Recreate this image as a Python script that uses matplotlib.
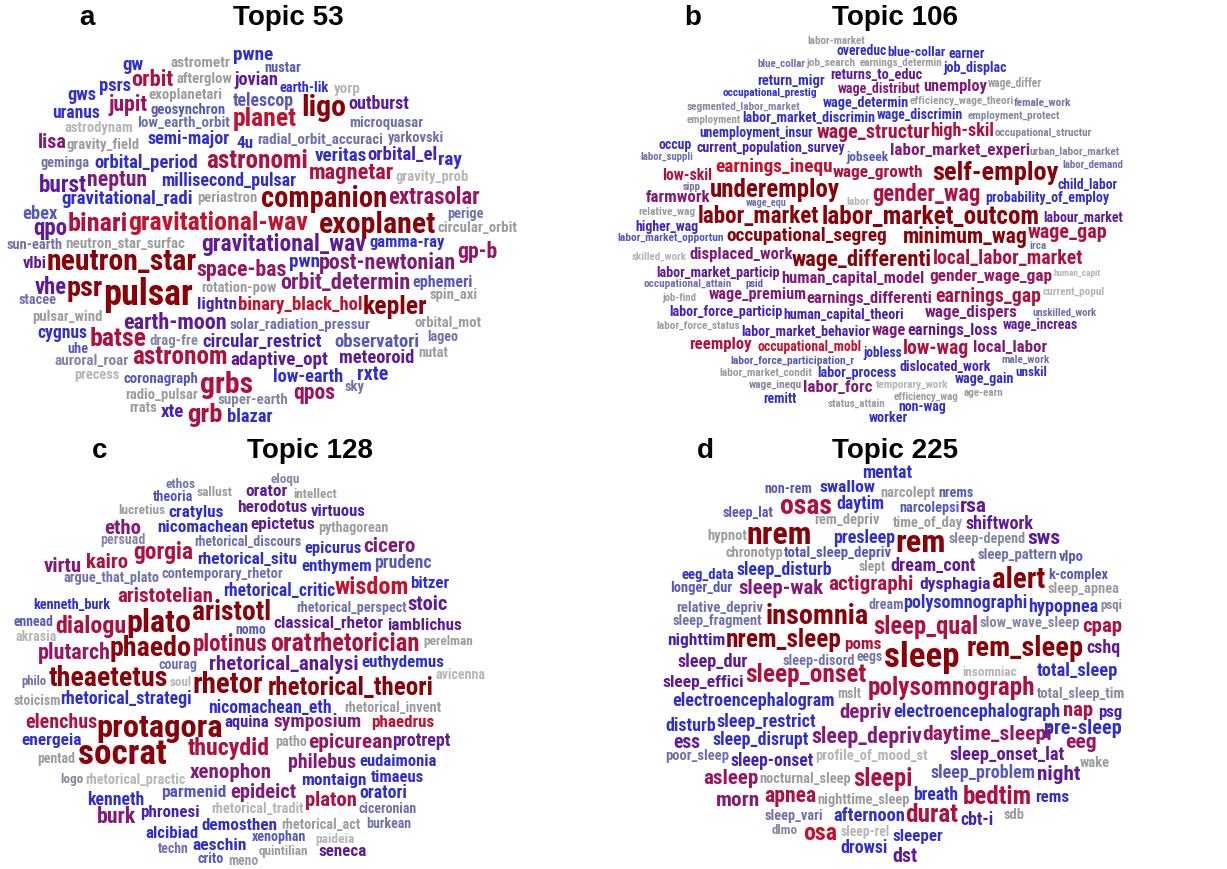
import os
import matplotlib
matplotlib.use('Agg')
import matplotlib.pyplot as plt
from matplotlib import font_manager as fm
from matplotlib.colors import LinearSegmentedColormap

# colour score levels (grey = weak ... dark red = strong)
LG, GR, SG, SL, SB, BL, BP, PU, PL, MG, CR, RD, DR = 0.0, .1, .2, .28, .36, .45, .52, .6, .68, .74, .8, .88, 1.0

titles = ['Topic 53', 'Topic 106', 'Topic 128', 'Topic 225']
letters = ['a', 'b', 'c', 'd']

words_a = [
    ("gw", BL), ("astrometr", GR), ("pwne", BL), ("nustar", SB), ("orbit", CR), ("afterglow", GR),
    ("psrs", BL), ("jovian", PU), ("earth-lik", BL), ("yorp", LG), ("gws", BL), ("exoplanetari", GR),
    ("jupit", MG), ("telescop", SB), ("ligo", DR), ("outburst", PU), ("uranus", BL), ("geosynchron", SB),
    ("planet", RD), ("microquasar", SL), ("astrodynam", LG), ("low_earth_orbit", SL), ("lisa", PL),
    ("gravity_field", GR), ("semi-major", BL), ("4u", BL), ("radial_orbit_accuraci", SL), ("yarkovski", SL),
    ("geminga", SL), ("orbital_period", BL), ("astronomi", CR), ("veritas", BL), ("orbital_el", BP),
    ("ray", BL), ("magnetar", CR), ("gravity_prob", LG), ("burst", PU), ("neptun", PL),
    ("millisecond_pulsar", BL), ("gravitational_radi", BL), ("periastron", GR), ("companion", DR),
    ("extrasolar", MG), ("ebex", SB), ("perige", SL), ("qpo", PU), ("binari", CR), ("gravitational-wav", RD),
    ("exoplanet", DR), ("circular_orbit", GR), ("sun-earth", SL), ("neutron_star_surfac", GR),
    ("gravitational_wav", PU), ("gamma-ray", BL), ("gp-b", MG), ("vlbi", PU), ("neutron_star", DR),
    ("space-bas", MG), ("pwn", BL), ("post-newtonian", PL), ("vhe", PU), ("psr", DR), ("pulsar", DR),
    ("rotation-pow", GR), ("orbit_determin", PL), ("ephemeri", SB), ("stacee", SL), ("spin_axi", GR),
    ("lightn", BP), ("binary_black_hol", RD), ("kepler", DR), ("pulsar_wind", GR), ("earth-moon", PU),
    ("solar_radiation_pressur", SL), ("orbital_mot", GR), ("cygnus", BL), ("batse", CR), ("drag-fre", SG),
    ("circular_restrict", BP), ("observatori", SB), ("lageo", SL), ("uhe", SB), ("auroral_roar", SG),
    ("astronom", CR), ("adaptive_opt", PU), ("meteoroid", PU), ("nutat", GR), ("precess", LG),
    ("coronagraph", SB), ("grbs", CR), ("low-earth", BL), ("rxte", BL), ("sky", SL), ("qpos", MG),
    ("radio_pulsar", GR), ("super-earth", SG), ("rrats", GR), ("xte", BP), ("grb", CR), ("blazar", BL),
]

words_b = [
    ("labor-market", GR), ("overeduc", BL), ("blue-collar", BL), ("earner", BL), ("blue_collar", SL),
    ("job_search", GR), ("earnings_determin", GR), ("job_displac", BL), ("return_migr", BL),
    ("returns_to_educ", PU), ("wage_distribut", PL), ("unemploy", PL), ("wage_differ", GR),
    ("occupational_prestig", BL), ("segmented_labor_market", SG), ("wage_determin", BL),
    ("efficiency_wage_theori", GR), ("female_work", SL), ("employment", GR), ("labor_market_discrimin", BL),
    ("wage_discrimin", BL), ("employment_protect", SG), ("unemployment_insur", BL), ("wage_structur", CR),
    ("high-skil", CR), ("occupational_structur", SG), ("occup", BL), ("current_population_survey", BP),
    ("labor_market_experi", PL), ("labor_suppli", SL), ("jobseek", SB), ("urban_labor_market", SG),
    ("labor_demand", SL), ("low-skil", CR), ("earnings_inequ", RD), ("wage_growth", CR), ("self-employ", DR),
    ("child_labor", BL), ("sipp", SL), ("underemploy", DR), ("farmwork", PL), ("gender_wag", CR),
    ("probability_of_employ", BL), ("wage_equ", SL), ("labor", LG), ("relative_wag", GR),
    ("labor_market", DR), ("labor_market_outcom", DR), ("labour_market", PU), ("higher_wag", BP),
    ("labor_market_opportun", SB), ("occupational_segreg", DR), ("minimum_wag", DR), ("wage_gap", CR),
    ("irca", SL), ("skilled_work", LG), ("displaced_work", PL), ("wage_differenti", DR),
    ("local_labor_market", CR), ("labor_market_particip", PU), ("human_capital_model", PL),
    ("gender_wage_gap", MG), ("human_capit", LG), ("occupational_attain", SL), ("psid", SB),
    ("job-find", GR), ("wage_premium", PL), ("earnings_differenti", PL), ("earnings_gap", CR),
    ("current_popul", LG), ("labor_force_particip", BP), ("human_capital_theori", BP), ("wage_dispers", PL),
    ("unskilled_work", SL), ("labor_force_status", GR), ("labor_market_behavior", BP), ("wage", PL),
    ("earnings_loss", PU), ("wage_increas", PU), ("reemploy", CR), ("occupational_mobl", RD),
    ("jobless", BL), ("low-wag", CR), ("local_labor", PL), ("labor_force_participation_r", SB),
    ("male_work", SL), ("labor_market_condit", GR), ("labor_process", BL), ("dislocated_work", BP),
    ("unskil", BL), ("wage_gain", BL), ("wage_inequ", SG), ("labor_forc", PL), ("temporary_work", LG),
    ("efficiency_wag", GR), ("age-earn", GR), ("remitt", BL), ("status_attain", GR), ("non-wag", BL),
    ("worker", BL),
]

words_c = [
    ("eloqu", SG), ("ethos", SL), ("theoria", SB), ("sallust", GR), ("orator", PU), ("intellect", GR),
    ("lucretius", GR), ("cratylus", BL), ("herodotus", PU), ("virtuous", BP), ("etho", PL),
    ("nicomachean", BL), ("epictetus", PU), ("pythagorean", GR), ("persuad", SG),
    ("rhetorical_discours", SL), ("gorgia", CR), ("epicurus", BL), ("cicero", PL), ("virtu", PL),
    ("kairo", CR), ("rhetorical_situ", BL), ("enthymem", BL), ("prudenc", SB), ("argue_that_plato", SL),
    ("contemporary_rhetor", SL), ("rhetorical_critic", BL), ("wisdom", RD), ("bitzer", BL),
    ("aristotelian", CR), ("kenneth_burk", BL), ("stoic", PU), ("rhetorical_perspect", SL), ("ennead", SB),
    ("dialogu", CR), ("plato", DR), ("aristotl", DR), ("classical_rhetor", PU), ("iamblichus", PU),
    ("nomo", SB), ("akrasia", LG), ("plutarch", MG), ("phaedo", DR), ("plotinus", CR), ("orat", CR),
    ("rhetorician", CR), ("perelman", GR), ("courag", SL), ("rhetorical_analysi", PU), ("euthydemus", BL),
    ("philo", SL), ("theaetetus", DR), ("soul", LG), ("avicenna", LG), ("rhetor", DR),
    ("rhetorical_theori", DR), ("stoicism", GR), ("rhetorical_strategi", BL), ("nicomachean_eth", BL),
    ("rhetorical_invent", GR), ("elenchus", CR), ("protagora", DR), ("aquina", BP), ("symposium", PL),
    ("phaedrus", RD), ("energeia", BL), ("thucydid", CR), ("patho", GR), ("epicurean", MG),
    ("protrept", PU), ("pentad", GR), ("socrat", DR), ("philebus", PL), ("eudaimonia", BL), ("logo", SG),
    ("rhetorical_practic", LG), ("xenophon", PL), ("montaign", BL), ("timaeus", BL), ("parmenid", SB),
    ("epideict", PL), ("kenneth", BL), ("platon", CR), ("oratori", BL), ("rhetorical_tradit", LG),
    ("ciceronian", SL), ("burk", PL), ("phronesi", BP), ("demosthen", BL), ("rhetorical_act", GR),
    ("burkean", SL), ("alcibiad", BL), ("xenophan", SB), ("paideia", LG), ("techn", SL), ("aeschin", BL),
    ("quintilian", GR), ("seneca", PU), ("crito", SB), ("meno", GR),
]

words_d = [
    ("mentat", BL), ("non-rem", SB), ("swallow", BL), ("narcolept", GR), ("nrems", SB), ("osas", CR),
    ("daytim", BL), ("narcolepsi", SB), ("rsa", PU), ("sleep_lat", SB), ("rem_depriv", GR),
    ("time_of_day", GR), ("shiftwork", PU), ("hypnot", GR), ("nrem", DR), ("presleep", BL), ("rem", DR),
    ("sleep-depend", SG), ("sws", PU), ("chronotyp", GR), ("total_sleep_depriv", SB), ("sleep_pattern", SL),
    ("vlpo", SB), ("slept", GR), ("dream_cont", PU), ("eeg_data", BL), ("sleep_disturb", BL), ("alert", DR),
    ("k-complex", SB), ("actigraphi", CR), ("dysphagia", BP), ("longer_dur", SB), ("sleep-wak", PL),
    ("sleep_apnea", GR), ("polysomnographi", BL), ("relative_depriv", SL), ("dream", SL), ("hypopnea", BL),
    ("psqi", SG), ("insomnia", DR), ("sleep_fragment", SL), ("sleep_qual", CR), ("slow_wave_sleep", SG),
    ("cpap", CR), ("nighttim", BP), ("nrem_sleep", DR), ("poms", CR), ("sleep", DR), ("rem_sleep", DR),
    ("cshq", PU), ("sleep_dur", PU), ("sleep-disord", SL), ("eegs", SL), ("sleep_effici", PU),
    ("sleep_onset", CR), ("insomniac", LG), ("total_sleep", BL), ("polysomnograph", CR),
    ("electroencephalogram", BL), ("mslt", GR), ("total_sleep_tim", SG), ("depriv", PL),
    ("electroencephalograph", BL), ("nap", CR), ("psg", BP), ("disturb", BL), ("sleep_restrict", BL),
    ("pre-sleep", BL), ("ess", PU), ("sleep_disrupt", BL), ("sleep_depriv", PL), ("daytime_sleepi", MG),
    ("eeg", MG), ("poor_sleep", SL), ("sleep-onset", BP), ("profile_of_mood_st", LG),
    ("sleep_onset_lat", PU), ("wake", GR), ("asleep", MG), ("nocturnal_sleep", GR), ("sleepi", CR),
    ("sleep_problem", SB), ("night", PU), ("morn", PL), ("apnea", CR), ("nighttime_sleep", GR),
    ("breath", BL), ("bedtim", CR), ("rems", BL), ("sleep_vari", SL), ("afternoon", BL), ("durat", CR),
    ("cbt-i", BP), ("sdb", GR), ("dlmo", SG), ("osa", RD), ("sleep-rel", LG), ("sleeper", BL),
    ("drowsi", BL), ("dst", PU),
]

# ---------------- layout: word -> (x centre, y centre, width) in image pixels ----------------
layout_a = {
    "gw": (133, 65, 21), "astrometr": (200, 63, 60), "pwne": (253, 55, 40), "nustar": (283, 68, 37),
    "orbit": (152, 80, 42), "afterglow": (204, 79, 56), "psrs": (115, 86, 32), "jovian": (256, 80, 44),
    "earth-lik": (304, 88, 49), "yorp": (347, 89, 27), "gws": (82, 95, 29), "exoplanetari": (185, 95, 74),
    "jupit": (128, 105, 39), "telescop": (263, 101, 61), "ligo": (324, 108, 45), "outburst": (379, 104, 61),
    "uranus": (76, 113, 48), "geosynchron": (188, 110, 75), "planet": (265, 119, 64),
    "microquasar": (386, 123, 74), "astrodynam": (99, 128, 69), "low_earth_orbit": (184, 123, 93),
    "lisa": (52, 143, 29), "gravity_field": (103, 145, 73), "semi-major": (189, 139, 82), "4u": (245, 143, 17),
    "radial_orbit_accuraci": (320, 140, 126), "yarkovski": (416, 138, 56), "geminga": (65, 163, 49),
    "orbital_period": (146, 163, 103), "astronomi": (257, 161, 102), "veritas": (341, 156, 52),
    "orbital_el": (402, 155, 70), "ray": (450, 160, 24), "magnetar": (352, 173, 85),
    "gravity_prob": (432, 177, 73), "burst": (63, 185, 48), "neptun": (117, 180, 60),
    "millisecond_pulsar": (229, 181, 135), "gravitational_radi": (127, 199, 131), "periastron": (227, 198, 60),
    "companion": (324, 199, 126), "extrasolar": (434, 198, 92), "ebex": (40, 214, 35), "perige": (465, 214, 36),
    "qpo": (50, 228, 34), "binari": (98, 224, 60), "gravitational-wav": (218, 223, 180),
    "exoplanet": (378, 225, 117), "circular_orbit": (477, 228, 80), "sun-earth": (35, 245, 56),
    "neutron_star_surfac": (125, 244, 120), "gravitational_wav": (284, 245, 165), "gamma-ray": (407, 243, 75),
    "gp-b": (477, 252, 40), "vlbi": (35, 264, 24), "neutron_star": (122, 262, 150), "space-bas": (242, 270, 90),
    "pwn": (304, 262, 31), "post-newtonian": (388, 263, 137), "vhe": (51, 287, 32), "psr": (85, 288, 36),
    "pulsar": (148, 295, 90), "rotation-pow": (239, 288, 75), "orbit_determin": (345, 283, 130),
    "ephemeri": (443, 282, 60), "stacee": (38, 300, 38), "spin_axi": (454, 295, 48), "lightn": (217, 305, 40),
    "binary_black_hol": (300, 305, 125), "kepler": (395, 307, 64), "pulsar_wind": (67, 317, 70),
    "earth-moon": (175, 323, 104), "solar_radiation_pressur": (300, 325, 141), "orbital_mot": (448, 323, 67),
    "cygnus": (62, 333, 50), "batse": (118, 339, 57), "drag-fre": (174, 341, 49),
    "circular_restrict": (262, 342, 119), "observatori": (377, 342, 85), "lageo": (443, 337, 31),
    "uhe": (78, 349, 21), "auroral_roar": (92, 361, 75), "astronom": (180, 357, 96),
    "adaptive_opt": (279, 360, 97), "meteoroid": (377, 358, 75), "nutat": (433, 353, 30),
    "precess": (97, 375, 45), "coronagraph": (161, 379, 75), "grbs": (227, 385, 53), "low-earth": (308, 377, 70),
    "rxte": (373, 374, 31), "sky": (355, 387, 20), "qpos": (314, 393, 42), "radio_pulsar": (162, 395, 73),
    "super-earth": (253, 400, 70), "rrats": (143, 408, 28), "xte": (172, 412, 23), "grb": (205, 415, 35),
    "blazar": (250, 417, 46),
}

layout_b = {
    "labor-market": (836, 41, 58), "overeduc": (862, 51, 50), "blue-collar": (917, 52, 58),
    "earner": (967, 54, 36), "blue_collar": (782, 64, 48), "job_search": (831, 63, 49),
    "earnings_determin": (901, 63, 83), "job_displac": (975, 68, 63), "return_migr": (791, 81, 67),
    "returns_to_educ": (876, 75, 92), "wage_distribut": (879, 89, 82), "unemploy": (955, 87, 64),
    "wage_differ": (1015, 83, 54), "occupational_prestig": (770, 93, 94),
    "segmented_labor_market": (743, 107, 113), "wage_determin": (866, 103, 86),
    "efficiency_wage_theori": (962, 101, 103), "female_work": (1043, 103, 57), "employment": (714, 120, 54),
    "labor_market_discrimin": (809, 118, 132), "wage_discrimin": (920, 115, 85),
    "employment_protect": (1014, 116, 92), "unemployment_insur": (756, 133, 113),
    "wage_structur": (873, 132, 113), "high-skil": (962, 131, 64), "occupational_structur": (1043, 133, 97),
    "occup": (675, 145, 33), "current_population_survey": (771, 148, 148), "labor_market_experi": (960, 150, 139),
    "labor_suppli": (667, 157, 53), "jobseek": (867, 157, 42), "urban_labor_market": (1075, 152, 90),
    "labor_demand": (1093, 165, 61), "low-skil": (687, 175, 50), "earnings_inequ": (774, 167, 117),
    "wage_growth": (878, 173, 90), "self-employ": (995, 173, 126), "child_labor": (1088, 185, 60),
    "sipp": (692, 187, 18), "underemploy": (775, 190, 130), "farmwork": (678, 198, 64),
    "gender_wag": (926, 195, 108), "probability_of_employ": (1047, 198, 123), "wage_equ": (766, 203, 41),
    "labor": (858, 202, 23), "relative_wag": (667, 212, 57), "labor_market": (758, 217, 121),
    "labor_market_outcom": (931, 217, 218), "labour_market": (1083, 218, 80), "higher_wag": (667, 227, 63),
    "labor_market_opportun": (671, 238, 106), "occupational_segreg": (807, 236, 160),
    "minimum_wag": (965, 237, 124), "wage_gap": (1068, 232, 79), "irca": (1038, 246, 17),
    "skilled_work": (659, 257, 55), "displaced_work": (741, 255, 103), "wage_differenti": (862, 260, 139),
    "local_labor_market": (1008, 258, 150), "labor_market_particip": (718, 273, 123),
    "human_capital_model": (853, 279, 143), "gender_wage_gap": (991, 277, 122), "human_capit": (1077, 274, 47),
    "occupational_attain": (688, 284, 88), "psid": (754, 284, 18), "job-find": (679, 298, 34),
    "wage_premium": (758, 295, 97), "earnings_differenti": (869, 298, 125), "earnings_gap": (988, 297, 105),
    "current_popul": (1074, 292, 62), "labor_force_particip": (726, 312, 113),
    "human_capital_theori": (844, 315, 121), "wage_dispers": (971, 313, 92), "unskilled_work": (1065, 313, 64),
    "labor_force_status": (698, 326, 84), "labor_market_behavior": (806, 332, 128), "wage": (889, 331, 34),
    "earnings_loss": (953, 331, 90), "wage_increas": (1040, 325, 75), "reemploy": (720, 345, 62),
    "occupational_mobl": (810, 347, 104), "jobless": (883, 353, 39), "low-wag": (936, 348, 66),
    "local_labor": (1010, 347, 74), "labor_force_participation_r": (792, 361, 123), "male_work": (1026, 360, 48),
    "labor_market_condit": (766, 373, 93), "labor_process": (857, 373, 79), "dislocated_work": (945, 367, 91),
    "unskil": (1031, 373, 32), "wage_gain": (984, 379, 59), "wage_inequ": (775, 385, 53),
    "labor_forc": (838, 388, 69), "temporary_work": (912, 385, 72), "efficiency_wag": (926, 397, 65),
    "age-earn": (983, 393, 40), "remitt": (780, 399, 33), "status_attain": (857, 404, 58),
    "non-wag": (922, 407, 48), "worker": (888, 418, 39),
}

layout_c = {
    "eloqu": (285, 479, 29), "ethos": (181, 484, 30), "theoria": (173, 497, 40), "sallust": (215, 493, 36),
    "orator": (266, 492, 42), "intellect": (315, 495, 44), "lucretius": (142, 510, 47),
    "cratylus": (196, 512, 55), "herodotus": (272, 507, 70), "virtuous": (338, 512, 55), "etho": (123, 528, 37),
    "nicomachean": (203, 528, 91), "epictetus": (283, 524, 64), "pythagorean": (353, 528, 70),
    "persuad": (123, 540, 45), "rhetorical_discours": (248, 542, 107), "gorgia": (163, 553, 60),
    "epicurus": (333, 549, 57), "cicero": (389, 546, 52), "virtu": (63, 567, 38), "kairo": (107, 562, 42),
    "rhetorical_situ": (247, 559, 99), "enthymem": (337, 567, 70), "prudenc": (403, 563, 57),
    "argue_that_plato": (111, 578, 96), "contemporary_rhetor": (222, 574, 121),
    "rhetorical_critic": (279, 591, 112), "wisdom": (372, 588, 74), "bitzer": (430, 584, 39),
    "aristotelian": (165, 597, 96), "kenneth_burk": (72, 605, 77), "stoic": (428, 605, 40),
    "rhetorical_perspect": (352, 608, 110), "ennead": (33, 622, 40), "dialogu": (91, 626, 71),
    "plato": (159, 623, 65), "aristotl": (232, 613, 79), "classical_rhetor": (328, 623, 110),
    "iamblichus": (425, 626, 74), "nomo": (251, 630, 31), "akrasia": (36, 637, 41), "plutarch": (74, 653, 73),
    "phaedo": (151, 649, 82), "plotinus": (230, 644, 75), "orat": (291, 644, 42), "rhetorician": (367, 644, 107),
    "perelman": (448, 642, 50), "courag": (178, 665, 39), "rhetorical_analysi": (284, 665, 149),
    "euthydemus": (403, 663, 83), "philo": (34, 682, 25), "theaetetus": (108, 678, 119), "soul": (181, 682, 22),
    "avicenna": (460, 675, 50), "rhetor": (228, 685, 70), "rhetorical_theori": (351, 688, 165),
    "stoicism": (37, 701, 47), "rhetorical_strategi": (126, 699, 131), "nicomachean_eth": (270, 708, 123),
    "rhetorical_invent": (393, 708, 97), "elenchus": (61, 723, 72), "protagora": (160, 728, 126),
    "aquina": (247, 723, 45), "symposium": (318, 722, 88), "phaedrus": (403, 723, 63),
    "energeia": (52, 740, 60), "thucydid": (229, 748, 82), "patho": (291, 742, 32), "epicurean": (350, 742, 84),
    "protrept": (421, 741, 58), "pentad": (56, 759, 38), "socrat": (122, 755, 89), "philebus": (322, 762, 68),
    "eudaimonia": (398, 761, 77), "logo": (72, 779, 23), "rhetorical_practic": (135, 780, 100),
    "xenophon": (231, 772, 82), "montaign": (334, 780, 65), "timaeus": (397, 777, 53),
    "parmenid": (194, 793, 65), "epideict": (263, 792, 66), "kenneth": (116, 800, 57), "platon": (331, 801, 52),
    "oratori": (383, 793, 48), "rhetorical_tradit": (258, 809, 92), "ciceronian": (388, 809, 58),
    "burk": (117, 817, 39), "phronesi": (170, 812, 59), "demosthen": (240, 825, 76),
    "rhetorical_act": (321, 825, 79), "burkean": (389, 824, 45), "alcibiad": (172, 833, 53),
    "xenophan": (279, 837, 54), "paideia": (335, 839, 39), "techn": (173, 849, 31), "aeschin": (220, 846, 54),
    "quintilian": (283, 851, 50), "seneca": (343, 851, 48), "crito": (211, 859, 26), "meno": (243, 861, 30),
}

layout_d = {
    "mentat": (887, 473, 50), "non-rem": (788, 489, 48), "swallow": (847, 487, 56), "narcolept": (908, 493, 55),
    "nrems": (956, 493, 35), "osas": (806, 507, 52), "daytim": (860, 504, 48), "narcolepsi": (930, 508, 60),
    "rsa": (973, 507, 27), "sleep_lat": (748, 513, 51), "rem_depriv": (847, 520, 65),
    "time_of_day": (928, 523, 70), "shiftwork": (999, 524, 68), "hypnot": (727, 536, 40), "nrem": (779, 535, 65),
    "presleep": (864, 538, 62), "rem": (921, 543, 50), "sleep-depend": (987, 539, 77), "sws": (1044, 539, 33),
    "chronotyp": (754, 553, 58), "total_sleep_depriv": (838, 553, 108), "sleep_pattern": (1017, 555, 80),
    "vlpo": (1071, 557, 25), "slept": (872, 567, 27), "dream_cont": (933, 566, 85), "eeg_data": (708, 575, 53),
    "sleep_disturb": (784, 570, 95), "alert": (1019, 580, 53), "k-complex": (1078, 575, 60),
    "actigraphi": (871, 585, 85), "dysphagia": (955, 585, 71), "longer_dur": (701, 588, 62),
    "sleep-wak": (781, 588, 85), "sleep_apnea": (1084, 589, 72), "polysomnographi": (965, 603, 124),
    "relative_depriv": (720, 608, 87), "dream": (886, 605, 35), "hypopnea": (1063, 607, 70),
    "psqi": (1111, 605, 22), "insomnia": (817, 616, 103), "sleep_fragment": (717, 621, 89),
    "sleep_qual": (926, 627, 105), "slow_wave_sleep": (1030, 623, 100), "cpap": (1102, 627, 40),
    "nighttim": (696, 641, 58), "nrem_sleep": (784, 640, 115), "poms": (863, 645, 37), "sleep": (922, 657, 75),
    "rem_sleep": (1025, 648, 116), "cshq": (1103, 648, 34), "sleep_dur": (713, 662, 70),
    "sleep-disord": (819, 661, 72), "eegs": (870, 657, 26), "sleep_effici": (703, 682, 81),
    "sleep_onset": (806, 675, 121), "insomniac": (990, 672, 55), "total_sleep": (1077, 671, 81),
    "polysomnograph": (952, 688, 167), "electroencephalogram": (754, 701, 162), "mslt": (849, 694, 24),
    "total_sleep_tim": (1081, 694, 88), "depriv": (865, 713, 52), "electroencephalograph": (977, 712, 167),
    "nap": (1078, 710, 30), "psg": (1110, 712, 24), "disturb": (691, 726, 51), "sleep_restrict": (766, 722, 99),
    "pre-sleep": (1083, 728, 77), "ess": (687, 742, 27), "sleep_disrupt": (761, 740, 96),
    "sleep_depriv": (867, 737, 110), "daytime_sleepi": (987, 734, 128), "eeg": (1081, 743, 31),
    "poor_sleep": (697, 756, 64), "sleep-onset": (772, 761, 83), "profile_of_mood_st": (872, 756, 113),
    "sleep_onset_lat": (1007, 755, 115), "wake": (1095, 763, 30), "asleep": (731, 779, 55),
    "nocturnal_sleep": (805, 779, 91), "sleepi": (883, 779, 59), "sleep_problem": (983, 773, 105),
    "night": (1059, 775, 43), "morn": (738, 800, 44), "apnea": (790, 796, 52), "nighttime_sleep": (864, 800, 92),
    "breath": (936, 795, 45), "bedtim": (997, 797, 69), "rems": (1052, 797, 34), "sleep_vari": (794, 816, 58),
    "afternoon": (869, 816, 72), "durat": (932, 815, 53), "cbt-i": (977, 820, 33), "sdb": (1014, 815, 21),
    "dlmo": (785, 830, 26), "osa": (820, 833, 34), "sleep-rel": (865, 832, 49), "sleeper": (918, 836, 50),
    "drowsi": (864, 848, 47), "dst": (905, 856, 25),
}

title_pos = [(288, 18), (895, 18), (310, 451), (895, 451)]
letter_pos = [(87, 18), (693, 18), (100, 451), (705, 451)]

cmap = LinearSegmentedColormap.from_list('cloud', [
    (0.00, '#b5b5b5'), (0.10, '#9b9ba0'), (0.20, '#8585a3'), (0.28, '#7070ad'), (0.36, '#5858bb'),
    (0.45, '#2f2fd0'), (0.52, '#4422b8'), (0.60, '#5e1a98'), (0.68, '#821a78'), (0.74, '#9a1460'),
    (0.80, '#b0103e'), (0.88, '#c8102c'), (1.00, '#8a0008')])


def narrow_font():
    # the cloud uses a condensed bold face; look for one among the installed fonts
    prefs = ['roboto', 'liberation sans narrow', 'noto sans', 'dejavu sans', 'open sans', 'lato', 'inter']
    best = None
    for f in fm.fontManager.ttflist:
        fn = os.path.basename(f.fname).lower()
        name = f.name.lower()
        narrow = ('condensed' in fn or 'narrow' in fn or 'cond' in name or 'narrow' in name
                  or f.stretch in ('condensed', 'semi-condensed'))
        if not narrow or 'extra' in fn or 'ultra' in fn or f.style != 'normal' or 'italic' in fn:
            continue
        w = f.weight if isinstance(f.weight, int) else {'bold': 700, 'normal': 400}.get(f.weight, 400)
        rank = next((i for i, p in enumerate(prefs) if name.startswith(p)), len(prefs))
        semi = 1 if 'semicondensed' in fn or f.stretch == 'semi-condensed' else 0
        key = (rank, semi, abs(w - 700))
        if best is None or key < best[0]:
            best = (key, f.fname)
    if best is None:
        return fm.FontProperties(family='DejaVu Sans', weight='bold')
    return fm.FontProperties(fname=best[1])


WORD_FONT = narrow_font()

fig = plt.figure(figsize=(12.27, 8.69), dpi=100)
ax = fig.add_axes([0, 0, 1, 1])
ax.set_xlim(0, 1227)
ax.set_ylim(869, 0)
ax.axis('off')
r = fig.canvas.get_renderer()

for words, layout in [(words_a, layout_a), (words_b, layout_b), (words_c, layout_c), (words_d, layout_d)]:
    for w, s in words:
        x, y, wd = layout[w]
        t = ax.text(x, y, w, ha='center', va='center', color=cmap(s), fontproperties=WORD_FONT)
        t.set_fontsize(20)
        bw = t.get_window_extent(r).width
        t.set_fontsize(20 * wd / bw)

for (tx, ty), title, (lx, ly), lt in zip(title_pos, titles, letter_pos, letters):
    ax.text(tx, ty, title, fontsize=20, fontweight='bold', ha='center', va='center', family='Liberation Sans')
    ax.text(lx, ly, lt, fontsize=20, fontweight='bold', ha='center', va='center', family='Liberation Sans')

fig.savefig('out.png', dpi=100, facecolor='white')
